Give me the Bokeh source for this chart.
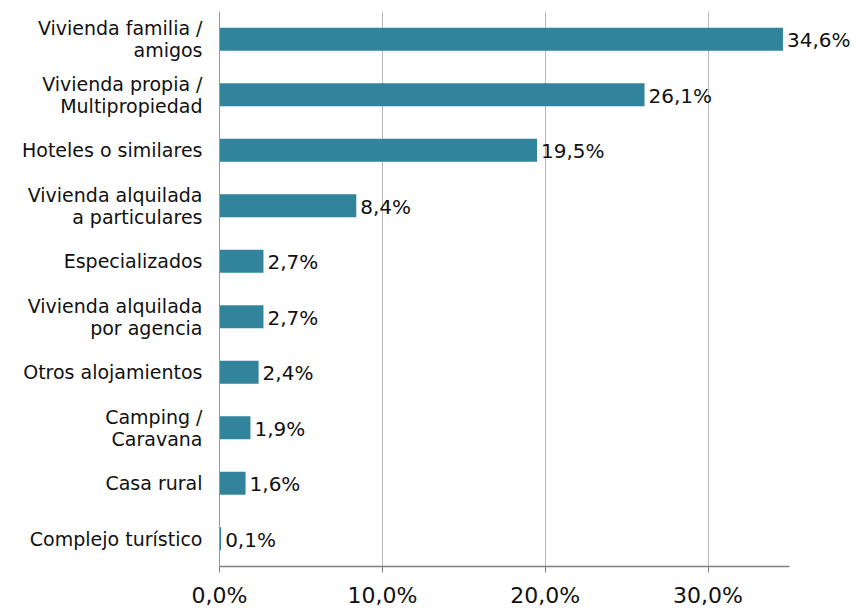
from bokeh.plotting import figure
from bokeh.models import FactorRange, Range1d, FixedTicker, ColumnDataSource, LabelSet
from bokeh.core.properties import value
from bokeh.embed import file_html
from bokeh.resources import INLINE

categories = [
    "Vivienda familia /\namigos",
    "Vivienda propia /\nMultipropiedad",
    "Hoteles o similares",
    "Vivienda alquilada\na particulares",
    "Especializados",
    "Vivienda alquilada\npor agencia",
    "Otros alojamientos",
    "Camping /\nCaravana",
    "Casa rural",
    "Complejo turístico",
]
values = [34.6, 26.1, 19.5, 8.4, 2.7, 2.7, 2.4, 1.9, 1.6, 0.1]
value_labels = ["34,6%", "26,1%", "19,5%", "8,4%", "2,7%", "2,7%", "2,4%", "1,9%", "1,6%", "0,1%"]
x_ticks = [0, 10, 20, 30]
x_tick_labels = ["0,0%", "10,0%", "20,0%", "30,0%"]
axis_max = 35

FONT = "DejaVu Sans"
BAR = "#31849B"

src = ColumnDataSource(dict(cat=categories, val=values, lab=value_labels))

# frame extends past the axis end so that the outer value label is not clipped
p = figure(
    width=858, height=610,
    y_range=FactorRange(factors=list(reversed(categories)), range_padding=0),
    x_range=Range1d(0, 39.24),
    output_backend="svg", toolbar_location=None,
    min_border_left=219, min_border_right=0, min_border_top=11, min_border_bottom=43,
)
p.outline_line_color = None
p.background_fill_color = "white"
p.border_fill_color = "white"

p.hbar(y="cat", right="val", left=0, height=0.41, source=src, color=BAR, line_color=None)
labels = LabelSet(x="val", y="cat", text="lab", source=src, x_offset=4, y_offset=-1,
                  text_align="left", text_baseline="middle",
                  text_font=value(FONT), text_font_size="20px", text_color="#111111")
p.add_layout(labels)

# x axis
p.xaxis.bounds = (0, axis_max)
p.xaxis.ticker = FixedTicker(ticks=x_ticks)
p.xaxis.major_label_overrides = {t: l for t, l in zip(x_ticks, x_tick_labels)}
p.xaxis.major_label_text_font = FONT
p.xaxis.major_label_text_font_size = "22px"
p.xaxis.major_label_text_color = "#111111"
p.xaxis.axis_line_color = "#808080"
p.xaxis.axis_line_width = 1.5
p.xaxis.major_tick_line_color = "#808080"
p.xaxis.major_tick_out = 6
p.xaxis.major_tick_in = 0
p.xaxis.minor_tick_line_color = None
p.xaxis.major_label_standoff = 10

# y axis
p.yaxis.major_label_text_font = FONT
p.yaxis.major_label_text_font_size = "19px"
p.yaxis.major_label_text_color = "#111111"
p.yaxis.major_label_text_align = "center"
p.yaxis.major_label_text_line_height = 1.0
p.yaxis.axis_line_color = "#999999"
p.yaxis.major_tick_line_color = None
p.yaxis.minor_tick_line_color = None
p.yaxis.major_label_standoff = 11

p.xgrid.grid_line_color = "#b8b8b8"
p.xgrid.ticker = FixedTicker(ticks=[10, 20, 30])
p.ygrid.grid_line_color = None

open("out.html", "w").write(file_html(p, INLINE))
